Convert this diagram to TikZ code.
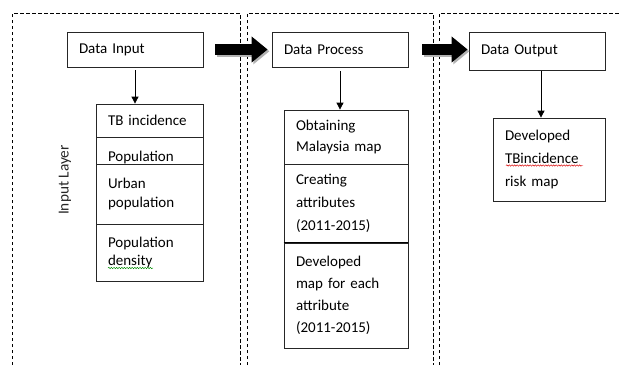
\documentclass[tikz,border=0pt]{standalone}
\usepackage{fontspec}
\setmainfont{Carlito}
\usetikzlibrary{arrows.meta,decorations.pathmorphing}
\begin{document}
\begin{tikzpicture}[x=1pt,y=-1pt,
  box/.style={draw=black!85, line width=0.8pt, fill=white, rectangle, inner xsep=12pt, inner ysep=1pt, align=left, anchor=center, font=\fontsize{15}{18}\selectfont},
  bs/.style={font=\fontsize{15}{#1}\selectfont},
  lane/.style={draw=black, line width=0.7pt, dash pattern=on 3.5pt off 2.5pt},
  bigarrow/.style={line width=11pt, -{Triangle[length=16pt,width=25pt]}},
  small/.style={draw=black, line width=0.8pt, -{Triangle[length=7pt,width=7pt]}},
  wavy/.style={line width=0.45pt, decorate, decoration={snake, amplitude=0.7pt, segment length=2.6pt}}]
\useasboundingbox (0,0) rectangle (619,365);
\fill[white] (0,0) rectangle (619,365);
% lanes
\draw[lane] (12,365) -- (12,13) -- (240,13) -- (240,365);
\draw[lane] (247,365) -- (247,13) -- (433,13) -- (433,365);
\draw[lane] (439,365) -- (439,13) -- (619,13);
% label
\node[rotate=90, font=\fontsize{15.3}{18}\selectfont, text=black!85] (lbl) at (65,180) {Input Layer};
% top boxes
\node[box, text width=112pt, minimum height=35pt] (din) at (135,49.5) {Data Input};
\node[box, text width=112pt, minimum height=35pt] (dproc) at (340,49.5) {Data Process};
\node[box, text width=112pt, minimum height=38pt] (dout) at (537,51) {Data Output};
% left stack
\node[box, text width=83pt, minimum height=33pt] (st1) at (149.5,120.5) {TB incidence};
\node[box, text width=83pt, minimum height=40pt] (st2) at (149.5,157) {Population};
\node[box, bs=19, text width=83pt, minimum height=60pt] (st3) at (149.5,194) {Urban\\population\\[-2pt]};
\node[box, bs=18, text width=83pt, minimum height=57pt] (st4) at (149.5,252.5) {Population\\density};
% middle stack
\node[box, bs=21, text width=100pt, minimum height=54pt] (m1) at (346,137) {Obtaining\\Malaysia map};
\node[box, bs=23, text width=100pt, minimum height=79pt] (m2) at (346,203.5) {Creating\\attributes\\(2011-2015)};
\node[box, bs=22, text width=100pt, minimum height=105pt] (m3) at (346,295.5) {Developed\\map for each\\attribute\\(2011-2015)};
\draw[line width=1.6pt] (m3.north west) -- (m3.north east);
% output
\node[box, bs=23, text width=88pt, minimum height=83pt] (res) at (549,159.5) {Developed\\TBincidence\\risk map};
% spell-check underlines
\draw[wavy, green!55!black] (108,268) -- (153,268);
\draw[wavy, red!85!black] (506,165.5) -- (583,165.5);
% small arrows
\draw[small] ([yshift=-3pt]din.south) -- (din.south |- st1.north);
\draw[small] ([yshift=-4pt]dproc.south) -- (dproc.south |- m1.north);
\draw[small] ([xshift=4pt,yshift=-1pt]dout.south) -- ([xshift=4pt]dout.south |- res.north);
% big arrows with shadow
\draw[bigarrow, black!30, transform canvas={xshift=1.8pt,yshift=-1.8pt}] ([xshift=12pt]din.east) -- ([xshift=-4pt]dproc.west);
\draw[bigarrow, black] ([xshift=12pt]din.east) -- ([xshift=-4pt]dproc.west);
\draw[bigarrow, black!30, transform canvas={xshift=1.8pt,yshift=-1.8pt}] ([xshift=14pt]dproc.east) -- ([xshift=-1pt]dout.west |- dproc.east);
\draw[bigarrow, black] ([xshift=14pt]dproc.east) -- ([xshift=-1pt]dout.west |- dproc.east);
\end{tikzpicture}
\end{document}
